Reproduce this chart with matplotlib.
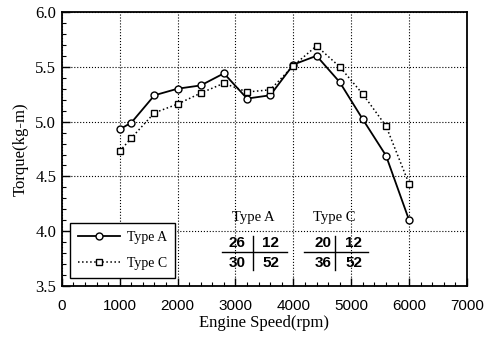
import matplotlib
matplotlib.use('agg')
import matplotlib.pyplot as plt
from matplotlib.ticker import MultipleLocator

# data
speed = [1000, 1200, 1600, 2000, 2400, 2800, 3200, 3600, 4000, 4400, 4800, 5200, 5600, 6000]
type_a = [4.93, 4.99, 5.24, 5.30, 5.33, 5.44, 5.21, 5.24, 5.52, 5.60, 5.36, 5.02, 4.69, 4.10]
type_c = [4.73, 4.85, 5.08, 5.16, 5.26, 5.35, 5.27, 5.29, 5.51, 5.69, 5.50, 5.25, 4.96, 4.43]
labels = ['Type A', 'Type C']
table_a = ['26', '12', '30', '52']
table_c = ['20', '12', '36', '52']

serif = 'Liberation Serif'
sans = 'Liberation Sans'

fig = plt.figure(figsize=(4.87, 3.41), dpi=100)
ax = fig.add_axes([0.127, 0.161, 0.832, 0.804])

ax.plot(speed, type_a, '-', color='k', lw=1.3, marker='o', ms=5,
        mfc='white', mec='k', mew=1.0, label=labels[0])
ax.plot(speed, type_c, ':', color='k', lw=1.1, marker='s', ms=5,
        mfc='white', mec='k', mew=1.0, label=labels[1])

ax.set_xlim(0, 7000)
ax.set_ylim(3.5, 6.0)
ax.xaxis.set_major_locator(MultipleLocator(1000))
ax.xaxis.set_minor_locator(MultipleLocator(200))
ax.yaxis.set_major_locator(MultipleLocator(0.5))
ax.yaxis.set_minor_locator(MultipleLocator(0.1))
ax.tick_params(which='both', direction='in', top=False, right=False)
ax.tick_params(which='major', length=6, width=1)
ax.tick_params(which='minor', length=3, width=0.8)
for s in ax.spines.values():
    s.set_linewidth(1.3)
ax.grid(True, which='major', ls=':', color='k', lw=0.8)

ax.set_xticks([0, 1000, 2000, 3000, 4000, 5000, 6000, 7000])
ax.set_xticklabels(['0', '1000', '2000', '3000', '4000', '5000', '6000', '7000'],
                   family=sans, fontsize=11)
ax.set_yticks([3.5, 4.0, 4.5, 5.0, 5.5, 6.0])
ax.set_yticklabels(['3.5', '4.0', '4.5', '5.0', '5.5', '6.0'], family=serif, fontsize=12)
ax.tick_params(axis='x', pad=9)
ax.tick_params(axis='y', pad=4)

ax.set_xlabel('Engine Speed(rpm)', family=serif, fontsize=12, labelpad=2)
ax.set_ylabel('Torque(kg-m)', family=serif, fontsize=12, labelpad=5)

leg = ax.legend(loc='lower left', bbox_to_anchor=(0.02, 0.03), borderaxespad=0,
                frameon=True, fancybox=False, framealpha=1, edgecolor='k',
                prop={'family': serif, 'size': 10},
                handlelength=3.0, handletextpad=0.5, borderpad=0.6, labelspacing=0.9)
leg.get_frame().set_linewidth(1.0)

# small tables of values: (divider x, left number x, right number x, line from, line to)
tables = [
    (3310, 3033, 3605, 2773, 3882, labels[0], table_a),
    (4714, 4506, 5043, 4177, 5286, labels[1], table_c),
]
for vx, lx, rx, x0, x1, name, vals in tables:
    ax.text(vx, 4.13, name, family=serif, fontsize=10.5, ha='center', va='center')
    ax.text(lx, 3.89, vals[0], family=sans, fontsize=11, fontweight='bold', ha='center', va='center')
    ax.text(rx, 3.89, vals[1], family=sans, fontsize=11, fontweight='bold', ha='center', va='center')
    ax.text(lx, 3.71, vals[2], family=sans, fontsize=11, fontweight='bold', ha='center', va='center')
    ax.text(rx, 3.71, vals[3], family=sans, fontsize=11, fontweight='bold', ha='center', va='center')
    ax.plot([x0, x1], [3.81, 3.81], color='k', lw=1.0)
    ax.plot([vx, vx], [3.65, 3.96], color='k', lw=1.0)

fig.savefig('out.png', dpi=100)
